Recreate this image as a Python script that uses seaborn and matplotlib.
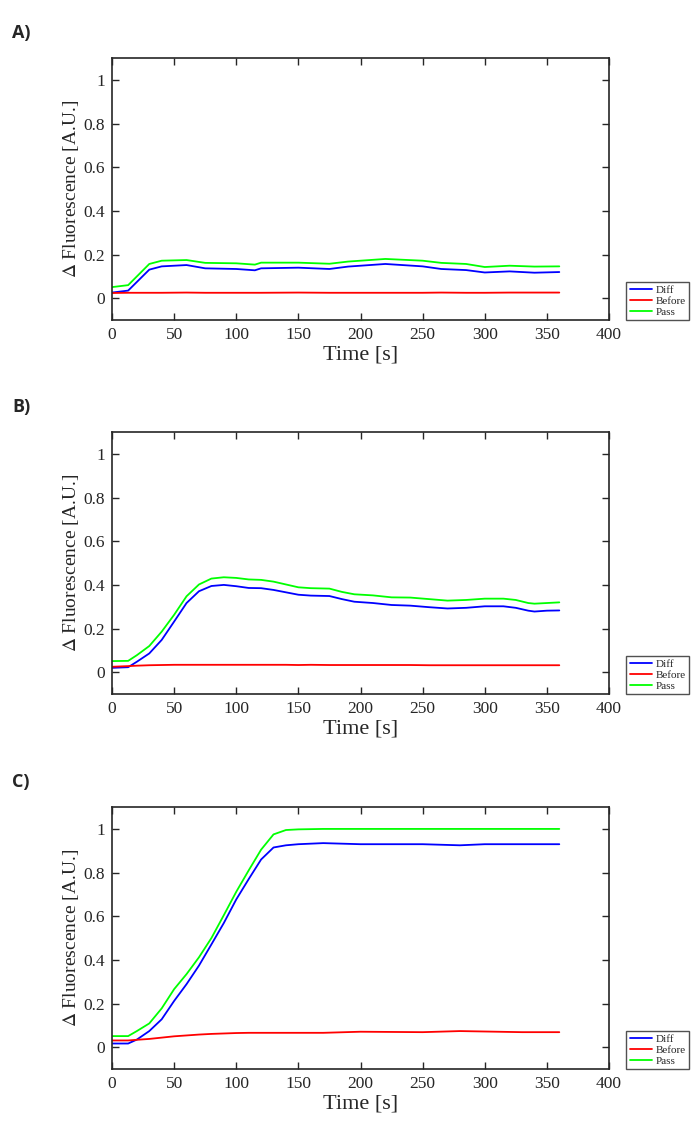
import pandas as pd
import matplotlib.pyplot as plt
import seaborn as sns

# Panel A
a_time = [0, 13, 30, 40, 60, 75, 100, 115, 120, 150, 175, 190, 220, 250, 265, 285, 300, 320, 340, 360]
a_pass = [0.051, 0.060, 0.157, 0.172, 0.175, 0.162, 0.160, 0.154, 0.163, 0.163, 0.158, 0.168, 0.180,
          0.172, 0.162, 0.157, 0.143, 0.149, 0.145, 0.146]
a_diff = [0.026, 0.035, 0.131, 0.146, 0.152, 0.137, 0.134, 0.128, 0.137, 0.140, 0.134, 0.145, 0.157,
          0.146, 0.134, 0.129, 0.118, 0.123, 0.117, 0.120]
a_before = [0.024, 0.025, 0.025, 0.025, 0.026, 0.025, 0.025, 0.025, 0.025, 0.026, 0.025, 0.025, 0.025,
            0.025, 0.026, 0.025, 0.025, 0.026, 0.026, 0.026]

# Panel B
b_time = [0, 13, 20, 30, 40, 50, 60, 70, 80, 90, 100, 110, 120, 130, 140, 150, 160, 175, 185, 195,
          210, 225, 240, 255, 270, 285, 300, 315, 325, 335, 340, 350, 360]
b_pass = [0.051, 0.052, 0.078, 0.120, 0.186, 0.263, 0.348, 0.402, 0.429, 0.435, 0.432, 0.425, 0.423,
          0.415, 0.402, 0.389, 0.385, 0.383, 0.368, 0.357, 0.352, 0.343, 0.342, 0.335, 0.328, 0.331,
          0.337, 0.337, 0.331, 0.317, 0.314, 0.317, 0.320]
b_diff = [0.020, 0.023, 0.048, 0.086, 0.148, 0.232, 0.317, 0.371, 0.395, 0.400, 0.394, 0.386, 0.385,
          0.377, 0.366, 0.355, 0.351, 0.349, 0.335, 0.323, 0.317, 0.308, 0.305, 0.298, 0.292, 0.295,
          0.302, 0.302, 0.295, 0.282, 0.278, 0.282, 0.283]
b_before = [0.025, 0.028, 0.030, 0.032, 0.033, 0.034, 0.034, 0.034, 0.034, 0.034, 0.034, 0.034, 0.034,
            0.034, 0.034, 0.033, 0.034, 0.033, 0.033, 0.033, 0.033, 0.033, 0.033, 0.032, 0.032, 0.032,
            0.032, 0.032, 0.032, 0.032, 0.032, 0.032, 0.032]

# Panel C
c_time = [0, 13, 20, 30, 40, 50, 60, 70, 80, 90, 100, 110, 120, 130, 140, 150, 170, 200, 250, 280,
          300, 330, 360]
c_pass = [0.051, 0.051, 0.074, 0.109, 0.178, 0.266, 0.335, 0.412, 0.500, 0.605, 0.712, 0.810, 0.905,
          0.975, 0.995, 0.998, 1.0, 1.0, 1.0, 1.0, 1.0, 1.0, 1.0]
c_diff = [0.017, 0.017, 0.035, 0.074, 0.128, 0.212, 0.289, 0.374, 0.471, 0.569, 0.677, 0.770, 0.860,
          0.915, 0.925, 0.930, 0.935, 0.930, 0.930, 0.925, 0.930, 0.930, 0.930]
c_before = [0.031, 0.031, 0.034, 0.038, 0.044, 0.050, 0.054, 0.058, 0.061, 0.063, 0.065, 0.066, 0.066,
            0.066, 0.066, 0.066, 0.066, 0.071, 0.069, 0.074, 0.072, 0.069, 0.069]

panels = [("A)", a_time, a_diff, a_before, a_pass),
          ("B)", b_time, b_diff, b_before, b_pass),
          ("C)", c_time, c_diff, c_before, c_pass)]

series_colors = {"Diff": "#0000ff", "Before": "#ff0000", "Pass": "#00ff00"}
x_ticks = [0, 50, 100, 150, 200, 250, 300, 350, 400]
y_ticks = [0, 0.2, 0.4, 0.6, 0.8, 1]

sns.set_style("white")
plt.rcParams['font.family'] = ['Liberation Serif', 'DejaVu Serif']
plt.rcParams['mathtext.fontset'] = 'stix'

fig = plt.figure(figsize=(7, 11.35), dpi=100)
axes_bottoms = [0.718, 0.3885, 0.0581]
grey = "#262626"

for (name, t, diff, before, pss), bottom in zip(panels, axes_bottoms):
    ax = fig.add_axes([0.16, bottom, 0.71, 0.2308])
    df = pd.DataFrame({"Time": t * 3,
                       "Value": diff + before + pss,
                       "Series": ["Diff"] * len(t) + ["Before"] * len(t) + ["Pass"] * len(t)})
    sns.lineplot(data=df, x="Time", y="Value", hue="Series", palette=series_colors,
                 linewidth=1.3, ax=ax, estimator=None, sort=False)
    ax.set_xlim(0, 400)
    ax.set_ylim(-0.1, 1.1)
    ax.set_xticks(x_ticks)
    ax.set_yticks(y_ticks)
    ax.set_yticklabels(["0", "0.2", "0.4", "0.6", "0.8", "1"])
    ax.tick_params(direction="in", length=5, width=1, colors=grey, labelsize=12.5,
                   top=True, right=True, bottom=True, left=True, pad=5)
    for s in ax.spines.values():
        s.set_color(grey)
        s.set_linewidth(1.2)
    ax.set_xlabel("Time [s]", fontsize=16, color=grey, labelpad=2)
    ax.set_ylabel(r"$\Delta$ Fluorescence [A.U.]", fontsize=14, color=grey, labelpad=2)
    leg = ax.legend(loc="lower left", bbox_to_anchor=(1.035, 0.0), fontsize=8, frameon=True,
                    fancybox=False, edgecolor=grey, handlelength=2.0, handletextpad=0.3,
                    borderpad=0.3, labelspacing=0.1, borderaxespad=0)
    leg.get_frame().set_linewidth(1.0)
    fig.text(0.017, bottom + 0.2308 + 0.022, name, fontsize=13, fontweight="bold",
             family=["Open Sans", "DejaVu Sans"], va="center")

fig.savefig("out.png", dpi=100)
